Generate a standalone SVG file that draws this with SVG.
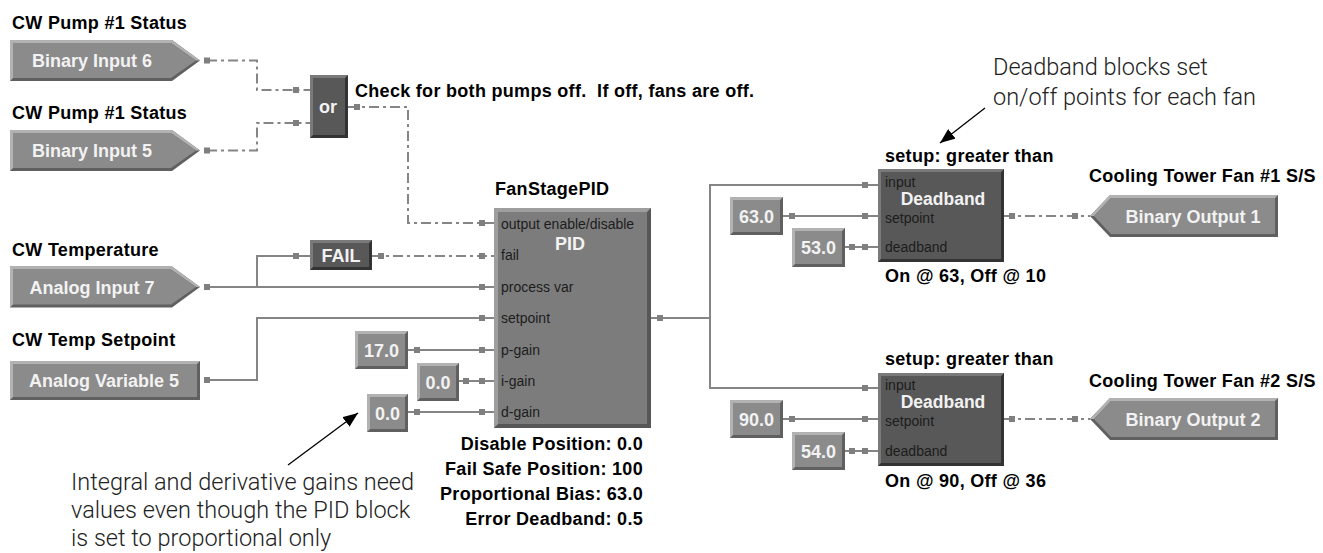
<svg xmlns="http://www.w3.org/2000/svg" xmlns:xlink="http://www.w3.org/1999/xlink" width="1323" height="553" viewBox="0 0 1323 553">
<style>
.lbl{font-family:"Liberation Sans",Arial,sans-serif;font-weight:bold;font-size:18px;letter-spacing:0.3px;fill:#000}
.blk{font-family:"Liberation Sans",Arial,sans-serif;font-weight:bold;font-size:18px;fill:#f2f2f2;text-anchor:middle}
.dbt{font-size:17.5px}
.pin{font-family:"Liberation Sans",Arial,sans-serif;font-size:14px;fill:#1c1c1c}
.note{font-family:Roboto,"Liberation Sans",Arial,sans-serif;font-weight:300;font-size:23.5px;fill:#222}
.d1{fill:#606060}.l1{fill:#b2b2b2}.m1{fill:#8b8b8b}
.d2{fill:#575757}.l2{fill:#9e9e9e}.m2{fill:#7c7c7c}
.d3{fill:#333}.l3{fill:#7a7a7a}.m3{fill:#585858}
.wire{fill:none;stroke:#858585;stroke-width:2}
.dash{stroke-dasharray:10 4 3 4}
.port{fill:#7f7f7f}
.arrow{stroke:#000;stroke-width:1.3;fill:none}
</style>
<defs>
<g id="inPent">
<polygon class="d1" points="0,0 162,0 190,20.5 162,41 0,41"/>
<polygon class="l1" points="0,0 162,0 190,20.5 186,20.5 161,3 3,3 3,38 0,41"/>
<polygon class="m1" points="3,3 161,3 186,20.5 161,38 3,38"/>
</g>
<g id="outPent">
<polygon class="d1" points="0,21 20,0 188,0 188,42 20,42"/>
<polygon class="l1" points="0,21 20,0 188,0 185,3 21,3 4,21"/>
<polygon class="m1" points="4,21 21,3 185,3 185,39 21,39"/>
</g>
<marker id="ah" markerWidth="16" markerHeight="12" refX="15" refY="6" orient="auto" markerUnits="userSpaceOnUse">
<path d="M0,0 L15,6 L0,12 z" fill="#000"/>
</marker>
</defs>

<g id="connectors">
<path class="wire dash" d="M207,60.5 H257 V90 H310"/>
<path class="wire dash" d="M207,150.5 H257 V123 H310"/>
<path class="wire dash" d="M348,107 H408 V223 H494"/>
<path class="wire dash" d="M372,256 H494"/>
<path class="wire" d="M207,287 H494"/>
<path class="wire" d="M257,287 V256 H310"/>
<path class="wire" d="M207,380 H257 V318 H494"/>
<path class="wire" d="M408,350 H494"/>
<path class="wire" d="M459,381 H494"/>
<path class="wire" d="M408,412 H494"/>
<path class="wire" d="M651,318 H710 V185 H878"/>
<path class="wire" d="M710,318 V388 H878"/>
<path class="wire" d="M783,216 H878"/>
<path class="wire" d="M845,247 H878"/>
<path class="wire" d="M783,419 H878"/>
<path class="wire" d="M845,451 H878"/>
<path class="wire dash" d="M1004,216 H1090"/>
<path class="wire dash" d="M1004,419 H1090"/>
<g class="port">
<rect x="204" y="57.5" width="6" height="6"/>
<rect x="204" y="147.5" width="6" height="6"/>
<rect x="293" y="87" width="6" height="6"/>
<rect x="293" y="120" width="6" height="6"/>
<rect x="354" y="104" width="6" height="6"/>
<rect x="479" y="220" width="6" height="6"/>
<rect x="293" y="253" width="6" height="6"/>
<rect x="378" y="253" width="6" height="6"/>
<rect x="479" y="253" width="6" height="6"/>
<rect x="204" y="284" width="6" height="6"/>
<rect x="479" y="284" width="6" height="6"/>
<rect x="204" y="377" width="6" height="6"/>
<rect x="479" y="315" width="6" height="6"/>
<rect x="414" y="347" width="6" height="6"/>
<rect x="479" y="347" width="6" height="6"/>
<rect x="463" y="378" width="6" height="6"/>
<rect x="479" y="378" width="6" height="6"/>
<rect x="414" y="409" width="6" height="6"/>
<rect x="479" y="409" width="6" height="6"/>
<rect x="657" y="315" width="6" height="6"/>
<rect x="862" y="182" width="6" height="6"/>
<rect x="789" y="213" width="6" height="6"/>
<rect x="862" y="213" width="6" height="6"/>
<rect x="849" y="244" width="6" height="6"/>
<rect x="862" y="244" width="6" height="6"/>
<rect x="862" y="385" width="6" height="6"/>
<rect x="789" y="416" width="6" height="6"/>
<rect x="862" y="416" width="6" height="6"/>
<rect x="849" y="448" width="6" height="6"/>
<rect x="862" y="448" width="6" height="6"/>
<rect x="1009" y="213" width="6" height="6"/>
<rect x="1072" y="213" width="6" height="6"/>
<rect x="1009" y="416" width="6" height="6"/>
<rect x="1072" y="416" width="6" height="6"/>
</g>
</g>

<g id="bi6">
<text class="lbl" x="12" y="29">CW Pump #1 Status</text>
<use xlink:href="#inPent" x="10" y="40"/>
<text class="blk" x="92" y="67">Binary Input 6</text>
</g>
<g id="bi5">
<text class="lbl" x="12" y="119">CW Pump #1 Status</text>
<use xlink:href="#inPent" x="10" y="130"/>
<text class="blk" x="92" y="157">Binary Input 5</text>
</g>
<g id="ai7">
<text class="lbl" x="12" y="256">CW Temperature</text>
<use xlink:href="#inPent" x="10" y="266.5"/>
<text class="blk" x="92" y="294">Analog Input 7</text>
</g>
<g id="av5">
<text class="lbl" x="12" y="346">CW Temp Setpoint</text>
<rect class="d1" x="10" y="361" width="190" height="39"/>
<polygon class="l1" points="10,361 200,361 197,364 13,364 13,397 10,400"/>
<rect class="m1" x="13" y="364" width="184" height="33"/>
<text class="blk" x="104" y="387">Analog Variable 5</text>
</g>

<g id="or">
<rect class="d3" x="310" y="75" width="38" height="63"/>
<polygon class="l3" points="310,75 348,75 345,78 313,78 313,135 310,138"/>
<rect class="m3" x="313" y="78" width="32" height="57"/>
<text class="blk" x="328" y="113">or</text>
<text class="lbl" x="355" y="97" xml:space="preserve" style="white-space:pre">Check for both pumps off.  If off, fans are off.</text>
</g>

<g id="fail">
<rect class="d3" x="310" y="240" width="62" height="30"/>
<polygon class="l3" points="310,240 372,240 369,243 313,243 313,267 310,270"/>
<rect class="m3" x="313" y="243" width="56" height="24"/>
<text class="blk" x="341" y="262">FAIL</text>
</g>

<g id="pid">
<text class="lbl" x="495" y="195">FanStagePID</text>
<rect class="d2" x="494" y="208" width="157" height="220"/>
<polygon class="l2" points="494,208 651,208 647,212 498,212 498,424 494,428"/>
<rect class="m2" x="498" y="212" width="149" height="212"/>
<text class="blk" x="570" y="250">PID</text>
<text class="pin" x="501" y="229">output enable/disable</text>
<text class="pin" x="501" y="260">fail</text>
<text class="pin" x="501" y="292">process var</text>
<text class="pin" x="501" y="323">setpoint</text>
<text class="pin" x="501" y="355">p-gain</text>
<text class="pin" x="501" y="386">i-gain</text>
<text class="pin" x="501" y="417">d-gain</text>
<text class="lbl" x="643" y="450" text-anchor="end">Disable Position: 0.0</text>
<text class="lbl" x="643" y="475" text-anchor="end">Fail Safe Position: 100</text>
<text class="lbl" x="643" y="500" text-anchor="end">Proportional Bias: 63.0</text>
<text class="lbl" x="643" y="525" text-anchor="end">Error Deadband: 0.5</text>
</g>

<g id="pgain">
<rect class="d1" x="355" y="331" width="53" height="38"/>
<polygon class="l1" points="355,331 408,331 405,334 358,334 358,366 355,369"/>
<rect class="m1" x="358" y="334" width="47" height="32"/>
<text class="blk" x="381.5" y="357">17.0</text>
</g>
<g id="igain">
<rect class="d1" x="417" y="363" width="42" height="38"/>
<polygon class="l1" points="417,363 459,363 456,366 420,366 420,398 417,401"/>
<rect class="m1" x="420" y="366" width="36" height="32"/>
<text class="blk" x="438" y="389">0.0</text>
</g>
<g id="dgain">
<rect class="d1" x="367" y="394" width="41" height="38"/>
<polygon class="l1" points="367,394 408,394 405,397 370,397 370,429 367,432"/>
<rect class="m1" x="370" y="397" width="35" height="32"/>
<text class="blk" x="387.5" y="420">0.0</text>
</g>

<g id="db1">
<text class="lbl" x="885" y="162">setup: greater than</text>
<rect class="d3" x="878" y="169" width="126" height="93"/>
<polygon class="l3" points="878,169 1004,169 1001,172 881,172 881,259 878,262"/>
<rect class="m3" x="881" y="172" width="120" height="87"/>
<text class="blk dbt" x="943" y="205">Deadband</text>
<text class="pin" x="885" y="187">input</text>
<text class="pin" x="885" y="223">setpoint</text>
<text class="pin" x="885" y="252">deadband</text>
<text class="lbl" x="885" y="282">On @ 63, Off @ 10</text>
</g>
<g id="sp1">
<rect class="d1" x="730" y="197" width="53" height="38"/>
<polygon class="l1" points="730,197 783,197 780,200 733,200 733,232 730,235"/>
<rect class="m1" x="733" y="200" width="47" height="32"/>
<text class="blk" x="756.5" y="223">63.0</text>
</g>
<g id="dbv1">
<rect class="d1" x="792" y="228" width="53" height="39"/>
<polygon class="l1" points="792,228 845,228 842,231 795,231 795,264 792,267"/>
<rect class="m1" x="795" y="231" width="47" height="33"/>
<text class="blk" x="818.5" y="254">53.0</text>
</g>

<g id="db2">
<text class="lbl" x="885" y="365">setup: greater than</text>
<rect class="d3" x="878" y="373" width="126" height="93"/>
<polygon class="l3" points="878,373 1004,373 1001,376 881,376 881,463 878,466"/>
<rect class="m3" x="881" y="376" width="120" height="87"/>
<text class="blk dbt" x="943" y="408">Deadband</text>
<text class="pin" x="885" y="390">input</text>
<text class="pin" x="885" y="426">setpoint</text>
<text class="pin" x="885" y="456">deadband</text>
<text class="lbl" x="885" y="487">On @ 90, Off @ 36</text>
</g>
<g id="sp2">
<rect class="d1" x="730" y="400" width="53" height="38"/>
<polygon class="l1" points="730,400 783,400 780,403 733,403 733,435 730,438"/>
<rect class="m1" x="733" y="403" width="47" height="32"/>
<text class="blk" x="756.5" y="426">90.0</text>
</g>
<g id="dbv2">
<rect class="d1" x="792" y="432" width="53" height="38"/>
<polygon class="l1" points="792,432 845,432 842,435 795,435 795,467 792,470"/>
<rect class="m1" x="795" y="435" width="47" height="32"/>
<text class="blk" x="818.5" y="458">54.0</text>
</g>

<g id="bo1">
<text class="lbl" x="1089" y="182">Cooling Tower Fan #1 S/S</text>
<use xlink:href="#outPent" x="1090" y="195"/>
<text class="blk" x="1193" y="223">Binary Output 1</text>
</g>
<g id="bo2">
<text class="lbl" x="1089" y="387">Cooling Tower Fan #2 S/S</text>
<use xlink:href="#outPent" x="1090" y="398"/>
<text class="blk" x="1193" y="426">Binary Output 2</text>
</g>

<g id="note-deadband">
<text class="note" x="993" y="75">Deadband blocks set</text>
<text class="note" x="993" y="105">on/off points for each fan</text>
<line class="arrow" x1="985" y1="108" x2="940" y2="143" marker-end="url(#ah)"/>
</g>
<g id="note-gains">
<text class="note" x="71" y="490">Integral and derivative gains need</text>
<text class="note" x="71" y="518">values even though the PID block</text>
<text class="note" x="71" y="546">is set to proportional only</text>
<line class="arrow" x1="288" y1="465" x2="358" y2="413" marker-end="url(#ah)"/>
</g>
</svg>
